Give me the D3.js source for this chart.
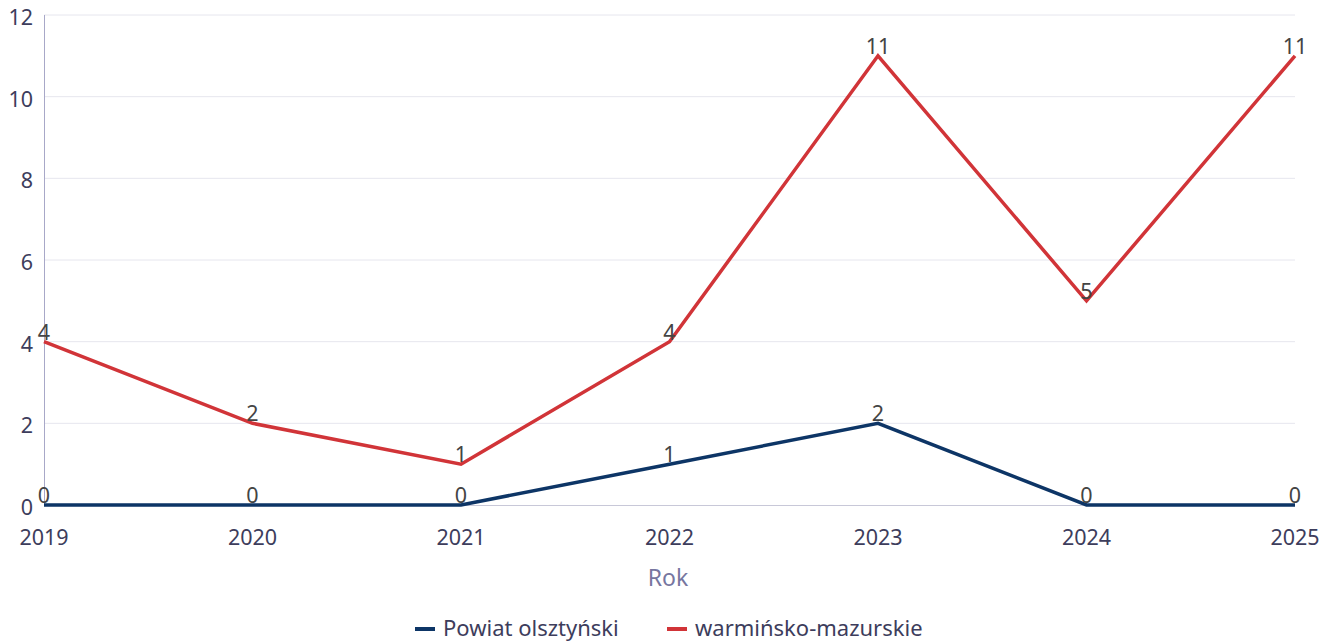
<!DOCTYPE html>
<html><head><meta charset="utf-8">
<script src="https://cdn.jsdelivr.net/npm/d3@7"></script>
<style>body{margin:0;background:#fff;} text{font-family:"Noto Sans",sans-serif;}</style>
</head><body><svg id="c" width="1329" height="644"></svg>
<script>
const years = ["2019","2020","2021","2022","2023","2024","2025"];
const powiat = [0,0,0,1,2,0,0];
const wojew = [4,2,1,4,11,5,11];
const yTicks = [0,2,4,6,8,10,12];
const seriesNames = ["Powiat olsztyński","warmińsko-mazurskie"];
const colors = ["#0d3566","#d13438"];

const svg = d3.select("#c");
const x = d3.scalePoint().domain(years).range([44,1295]);
const y = d3.scaleLinear().domain([0,12]).range([505,15]);

// grid
svg.append("g").selectAll("line").data(yTicks.filter(d=>d>0)).join("line")
  .attr("x1",44).attr("x2",1295).attr("y1",d=>y(d)).attr("y2",d=>y(d))
  .attr("stroke","#e6e6ee").attr("stroke-width",1);
// y labels
svg.append("g").selectAll("text").data(yTicks).join("text")
  .attr("x",33).attr("y",d=>y(d)+10).attr("text-anchor","end")
  .attr("font-size",21.5).attr("fill","#3d3d5c").text(d=>d);
// axes lines
svg.append("line").attr("x1",44.5).attr("x2",44.5).attr("y1",15).attr("y2",505).attr("stroke","#a8a8c8").attr("stroke-width",1);
svg.append("line").attr("x1",44).attr("x2",1295).attr("y1",505.5).attr("y2",505.5).attr("stroke","#c8c8d8").attr("stroke-width",1);
// x labels
svg.append("g").selectAll("text").data(years).join("text")
  .attr("x",d=>x(d)).attr("y",545).attr("text-anchor","middle")
  .attr("font-size",21.5).attr("fill","#3d3d5c").text(d=>d);
svg.append("text").attr("x",668).attr("y",586).attr("text-anchor","middle")
  .attr("font-size",23).attr("fill","#7676a0").text("Rok");

const line = d3.line().x((d,i)=>x(years[i])).y(d=>y(d));
const allSeries = [powiat, wojew];
[1,0].forEach(k=>{
  svg.append("path").datum(allSeries[k]).attr("d",line)
    .attr("fill","none").attr("stroke",colors[k]).attr("stroke-width",3.5)
    .attr("stroke-linejoin","miter");
});
[0,1].forEach(k=>{
  svg.append("g").selectAll("text").data(allSeries[k]).join("text")
    .attr("x",(d,i)=>x(years[i])).attr("y",d=>y(d)-2).attr("text-anchor","middle")
    .attr("font-size",21.5).attr("fill","#444").text(d=>d);
});

// legend
const leg = [{x:415,name:seriesNames[0],c:colors[0]},{x:667,name:seriesNames[1],c:colors[1]}];
leg.forEach(l=>{
  svg.append("line").attr("x1",l.x).attr("x2",l.x+20).attr("y1",629).attr("y2",629)
    .attr("stroke",l.c).attr("stroke-width",4);
  svg.append("text").attr("x",l.x+28).attr("y",636).attr("font-size",22)
    .attr("fill","#3d3d5c").text(l.name);
});
</script></body></html>
